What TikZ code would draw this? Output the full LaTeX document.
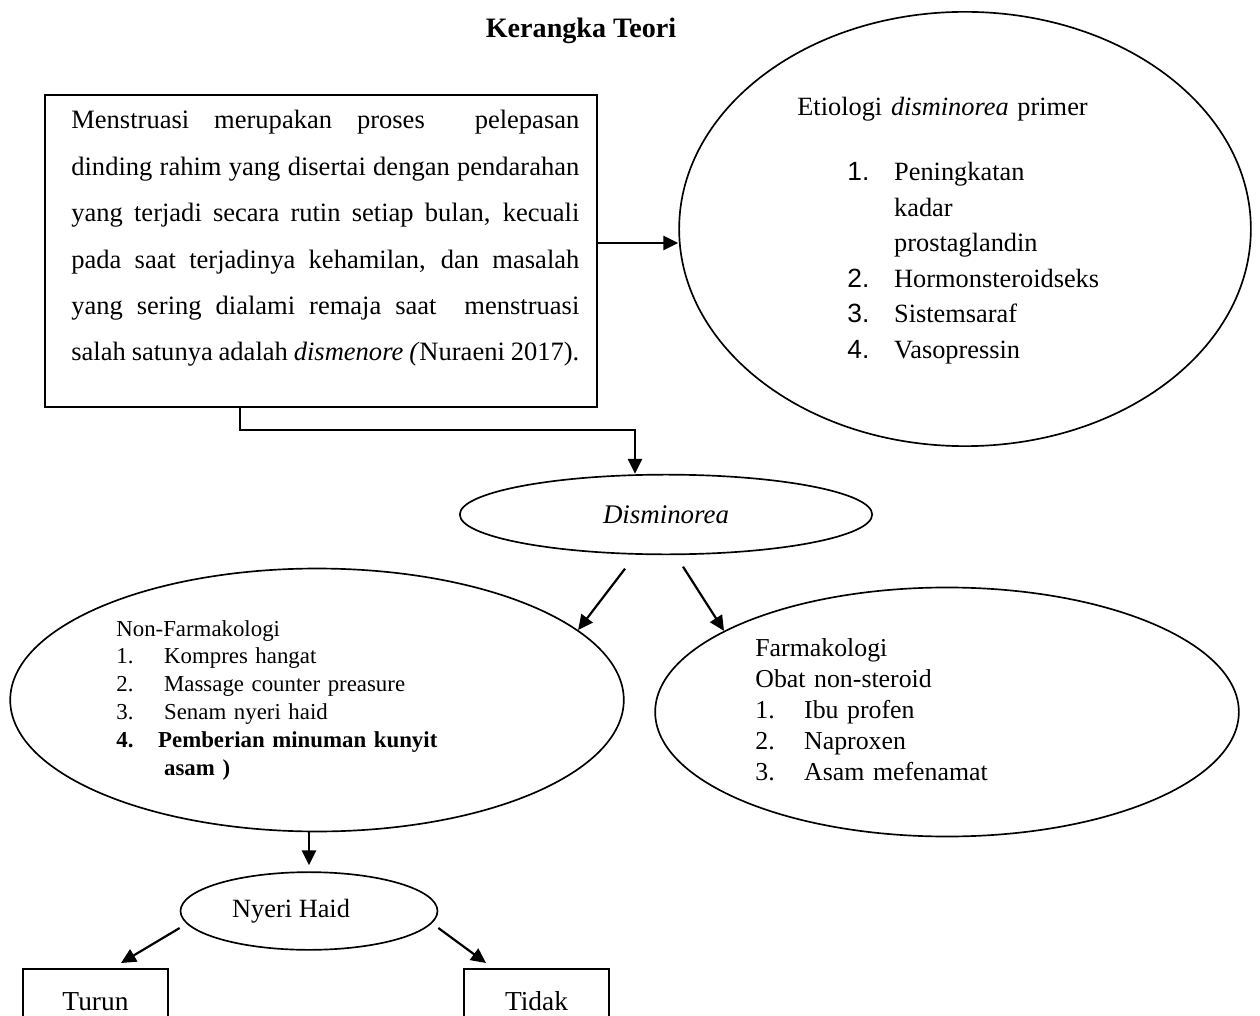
\documentclass[tikz,border=0pt]{standalone}
\usepackage{fontspec}
\setmainfont{Liberation Serif}
\newfontfamily\arialf{Liberation Sans}
\usetikzlibrary{arrows.meta,shapes.geometric,calc}
\newlength\pxu \setlength\pxu{0.56693pt}
\begin{document}
\begin{tikzpicture}[x=0.02cm,y=-0.02cm,
  arr/.style={line width=1.25pt,-{Triangle[length=8.5pt,width=8pt]}},
  oval/.style={draw,ellipse,line width=0.95pt,inner sep=0pt},
  boxr/.style={draw,rectangle,line width=1.1pt,inner sep=0pt},
  txt/.style={inner sep=0pt,anchor=base west,align=left,text width=330\pxu},
]
\useasboundingbox (0,0) rectangle (1260,1016);
\clip (0,0) rectangle (1260,1016);

% title
\node[inner sep=0pt, font={\fontsize{16pt}{19pt}\selectfont\bfseries}] (title) at (581,31) {Kerangka Teori};

% top-left box
\node[boxr, minimum width=554\pxu, minimum height=314\pxu] (box) at (321,251) {};
\node[inner sep=0pt, anchor=base west, text width=510\pxu, align=justify,
      font={\fontsize{15.1pt}{26.4pt}\selectfont}] (boxtext) at (71,129)
 {\hyphenpenalty=10000 Menstruasi merupakan proses\ \ pelepasan\linebreak
  dinding rahim yang disertai dengan pendarahan\linebreak
  yang terjadi secara rutin setiap bulan, kecuali\linebreak
  pada saat terjadinya kehamilan, dan masalah\linebreak
  yang sering dialami remaja saat\ \ menstruasi\linebreak
  salah satunya adalah \textit{dismenore (}Nuraeni 2017).};

% etiologi ellipse
\node[oval, minimum width=574\pxu, minimum height=436\pxu] (etio) at (965,229) {};
\node[txt, font={\fontsize{15pt}{18pt}\selectfont}] (etiohead) at (797,116) {Etiologi \textit{disminorea} primer};
\node[txt, font={\fontsize{15pt}{20.2pt}\selectfont}] (etiolist) at (847,181)
 {\makebox[47\pxu][l]{\arialf 1.}Peningkatan\\
  \hspace*{47\pxu}kadar\\
  \hspace*{47\pxu}prostaglandin\\
  \makebox[47\pxu][l]{\arialf 2.}Hormonsteroidseks\\
  \makebox[47\pxu][l]{\arialf 3.}Sistemsaraf\\
  \makebox[47\pxu][l]{\arialf 4.}Vasopressin};

% disminorea
\node[oval, minimum width=414\pxu, minimum height=80\pxu,
      font={\fontsize{15.3pt}{18pt}\selectfont\itshape}] (dism) at (666,514.5) {Disminorea};

% non-farmakologi
\node[oval, minimum width=616\pxu, minimum height=264\pxu] (nonfarm) at (317,700) {};
\node[txt, font={\fontsize{13pt}{15.9pt}\selectfont}] (nonfarmtext) at (116,636)
 {Non-Farmakologi\\
  \makebox[48\pxu][l]{1.}Kompres hangat\\
  \makebox[48\pxu][l]{2.}Massage counter preasure\\
  \makebox[48\pxu][l]{3.}Senam nyeri haid\\
  \textbf{\makebox[42\pxu][l]{4.}Pemberian minuman kunyit}\\
  \textbf{\hspace*{48\pxu}asam )}};

% farmakologi
\node[oval, minimum width=586\pxu, minimum height=250\pxu] (farm) at (947,712) {};
\node[txt, font={\fontsize{14.7pt}{17.7pt}\selectfont}] (farmtext) at (755,656)
 {Farmakologi\\
  Obat non-steroid\\
  \makebox[49\pxu][l]{1.}Ibu profen\\
  \makebox[49\pxu][l]{2.}Naproxen\\
  \makebox[49\pxu][l]{3.}Asam mefenamat};

% nyeri haid
\node[oval, minimum width=258\pxu, minimum height=78\pxu,
      font={\fontsize{15pt}{18pt}\selectfont}] (nyeri) at (309,911) {Nyeri Haid\kern36\pxu};

% bottom boxes
\node[boxr, minimum width=145\pxu, anchor=north, text height=42\pxu, text depth=70\pxu,
      font={\fontsize{15.6pt}{18pt}\selectfont}] (turun) at (95.5,968) {Turun};
\node[boxr, minimum width=145\pxu, anchor=north, text height=42\pxu, text depth=70\pxu,
      font={\fontsize{15.6pt}{18pt}\selectfont}] (tidak) at (536.5,968) {Tidak};

% connectors
\coordinate (j1) at (240,430);
\coordinate (j2) at (635,430);
\draw[arr] ([yshift=0.16cm]box.east) -- ([yshift=0.16cm]box.east -| etio.west);
\draw[arr] (box.south -| j1) |- (j2) -- (j2 |- dism.north);
\draw[arr] ([xshift=-0.82cm,yshift=-0.27cm]dism.south) -- (nonfarm.15);
\draw[arr] ([xshift=0.34cm,yshift=-0.23cm]dism.south) -- (farm.160);
\draw[arr] (nyeri.north |- nonfarm.south) -- ([yshift=0.12cm]nyeri.north);
\draw[arr] ([yshift=-0.34cm]nyeri.west) -- ([xshift=0.51cm,yshift=0.1cm]turun.north);
\draw[arr] ([yshift=-0.34cm]nyeri.east) -- ([xshift=-1.01cm,yshift=0.1cm]tidak.north);
\end{tikzpicture}
\end{document}
